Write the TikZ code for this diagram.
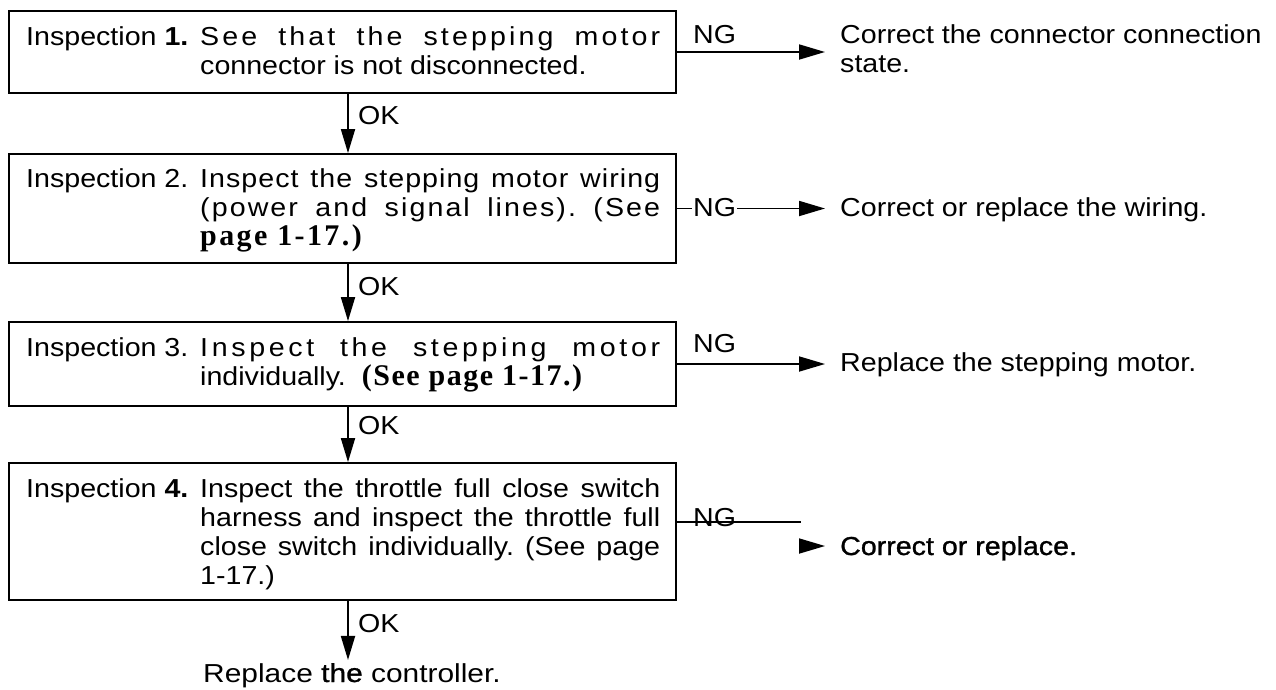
\documentclass[tikz,border=0pt]{standalone}
\usepackage{fontspec}
\setmainfont{Liberation Sans}[FakeStretch=1.1]
\newfontfamily\refserif{Liberation Serif}
\usetikzlibrary{arrows.meta,calc}
\frenchspacing

% a justified, optionally letter-spaced line of the step text
\newcommand{\fillline}[2]{{\addfontfeature{LetterSpace=#1}\makebox[460pt][s]{#2}}}
% the "Inspection n." lead-in column
\newcommand{\lead}[1]{\makebox[174pt][l]{#1}}
% page references set in bold serif
\newcommand{\pref}[2]{{\refserif\bfseries\fontsize{30}{29}\selectfont\addfontfeature{LetterSpace=#1}#2}}
\newcommand{\indentline}{\hspace*{174pt}}
% slightly heavier print
\newcommand{\heavy}[1]{{\addfontfeature{FakeBold=1}#1}}

\begin{document}
\begin{tikzpicture}[x=1pt,y=-1pt,
  font=\fontsize{26}{29}\selectfont,
  stepbox/.style={draw, line width=1.8pt, minimum width=667pt, inner sep=0pt},
  body/.style={anchor=base west, inner sep=0pt, align=left},
  outcome/.style={anchor=base west, inner xsep=15pt, inner ysep=3pt},
  ngtext/.style={anchor=base west, inner sep=0pt},
  oktext/.style={anchor=base west, inner sep=0pt},
  link/.style={line width=1.8pt},
  ngarrow/.style={link, -{Triangle[length=26pt,width=15pt]}},
  okarrow/.style={link, -{Triangle[length=24pt,width=14pt]}},
]
\useasboundingbox (0,0) rectangle (1276,689);

% inspection steps
\node[stepbox, minimum height=82pt]  (b1) at (342.5,52)    {};
\node[stepbox, minimum height=109pt] (b2) at (342.5,208.5) {};
\node[stepbox, minimum height=84pt]  (b3) at (342.5,364)   {};
\node[stepbox, minimum height=137pt] (b4) at (342.5,531.5) {};

\node[body] (x1) at (26,45) {\parbox[t]{634pt}{\raggedright
  \lead{Inspection \textbf{1.}}\fillline{12}{See that the stepping motor}\\
  \indentline connector is not disconnected.}};
\node[body] (x2) at (26,187) {\parbox[t]{634pt}{\raggedright
  \lead{Inspection 2.}\fillline{4}{Inspect the stepping motor wiring}\\
  \indentline\fillline{8}{(power and signal lines). (See}\\
  \indentline\pref{8}{page 1-17.)}}};
\node[body] (x3) at (26,356) {\parbox[t]{634pt}{\raggedright
  \lead{Inspection 3.}\fillline{14}{Inspect the stepping motor}\\
  \indentline individually.\hspace{8pt} \pref{5}{(See page 1-17.)}}};
\node[body] (x4) at (26,497) {\parbox[t]{634pt}{\raggedright
  \lead{Inspection \textbf{4.}}\fillline{0}{Inspect the throttle full close switch}\\
  \indentline\fillline{0}{harness and inspect the throttle full}\\
  \indentline\fillline{0}{close switch individually. (See page}\\
  \indentline 1-17.)}};

% remedies
\node[outcome] (t1) at (825,43)  {\parbox[t]{440pt}{Correct the connector connection\\state.}};
\node[outcome] (t2) at (825,216) {Correct or replace the wiring.};
\node[outcome] (t3) at (825,371) {Replace the stepping motor.};
\node[outcome] (t4) at (825,555) {\heavy{Correct or replace.}};
\node[anchor=base west, inner xsep=0pt, inner ysep=3pt] (fin) at (203,682)
  {\addfontfeature{FakeStretch=1.15}Replace \heavy{the} controller.};

% OK path down the middle
\coordinate (axis) at (348,0);
\draw[okarrow] (b1.south -| axis) -- (b2.north -| axis);
\draw[okarrow] (b2.south -| axis) -- (b3.north -| axis);
\draw[okarrow] (b3.south -| axis) -- (b4.north -| axis);
\draw[okarrow] (b4.south -| axis) -- (fin.north -| axis);
\node[oktext] (ok1) at (358,124.5) {OK};
\node[oktext] (ok2) at (358,295.5) {OK};
\node[oktext] (ok3) at (358,434.5) {OK};
\node[oktext] (ok4) at (358,632.5) {OK};

% NG branches to the right
\draw[ngarrow] (b1.east) -- (b1.east -| t1.west);
\draw[ngarrow] (b2.east) -- (b2.east -| t2.west);
\draw[ngarrow] (b3.east) -- (b3.east -| t3.west);
\coordinate (n4) at (801,522);
\draw[link] (b4.east |- n4) -- (n4);
\coordinate (h4) at (801,546);
\draw[ngarrow] (h4) -- (h4 -| t4.west);

\node[ngtext] (g1) at (693,43) {NG};
\node[ngtext, fill=white, inner sep=1pt] (g2) at (692,216) {NG};
\node[ngtext] (g3) at (693,352) {NG};
\node[ngtext] (g4) at (693,526) {NG};
\end{tikzpicture}
\end{document}
